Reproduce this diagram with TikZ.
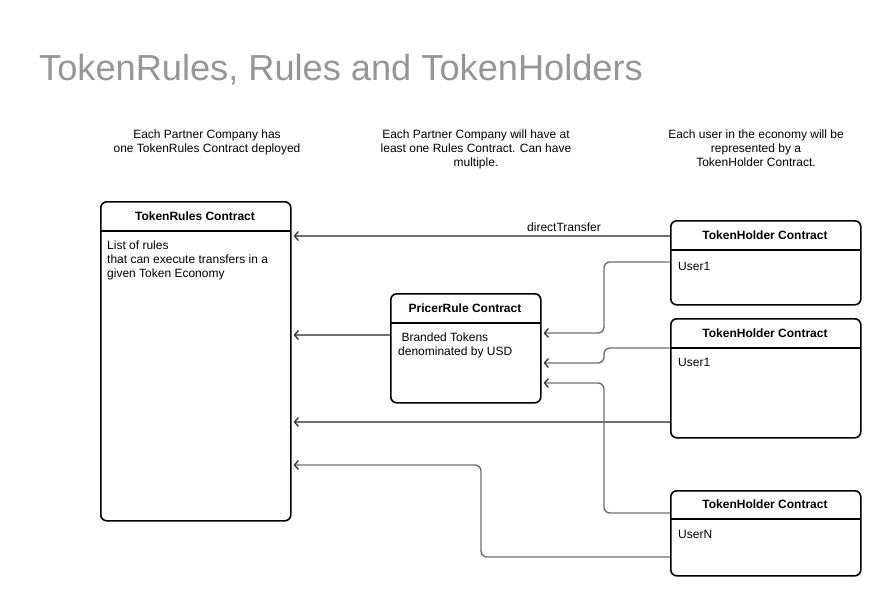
\documentclass[tikz,border=0pt]{standalone}
\usepackage{fontspec}
\setmainfont{Liberation Sans}
\usetikzlibrary{arrows.meta}
\definecolor{conncol}{RGB}{112,112,112}
\definecolor{titlecol}{RGB}{150,150,150}
\begin{document}
\begin{tikzpicture}[x=1pt,y=-1pt,
  box/.style={draw=black,line width=1.6pt,rounded corners=6pt,anchor=north west,inner sep=0pt},
  hdr/.style={font=\fontsize{12}{14}\selectfont\bfseries,anchor=center},
  body/.style={font=\fontsize{12}{14}\selectfont,align=left,anchor=north west,inner sep=0pt},
  note/.style={font=\fontsize{12}{14}\selectfont,align=center,anchor=north,inner sep=0pt},
  conn/.style={draw=conncol,line width=1.4pt,rounded corners=6pt,shorten >=2pt,
    -{Straight Barb[length=4pt,width=9pt,line width=1.3pt,color=black!80]}},
  sepline/.style={line width=1.6pt}]
\useasboundingbox[fill=white] (0,0) rectangle (888,595);

% title
\node[anchor=base west,inner sep=0pt,text=titlecol,font=\fontsize{36.2}{40}\selectfont] (title) at (39,80) {TokenRules, Rules and TokenHolders};

% notes
\node[note] (n1) at (207,130) {Each Partner Company has\\one TokenRules Contract deployed};
\node[note] (n2) at (476,130) {Each Partner Company will have at\\least one Rules Contract. Can have\\multiple.};
\node[note] (n3) at (756,130) {Each user in the economy will be\\represented by a\\TokenHolder Contract.};

% boxes
\node[box,minimum width=190pt,minimum height=319pt] (tr) at (100,201) {};
\draw[sepline] (100,231) -- (290,231);
\node[hdr] (trh) at (195,216) {TokenRules Contract};
\node[body] (trb) at (107,241) {List of rules\\that can execute transfers in a\\given Token Economy};

\node[box,minimum width=150pt,minimum height=109pt] (pr) at (390,293) {};
\draw[sepline] (390,323) -- (540,323);
\node[hdr] (prh) at (465,308) {PricerRule Contract};
\node[body] (prb) at (398,333) {\hspace{3.3pt}Branded Tokens\\denominated by USD};

\node[box,minimum width=190pt,minimum height=84pt] (th1) at (670,220) {};
\draw[sepline] (670,250) -- (860,250);
\node[hdr] (th1h) at (765,235) {TokenHolder Contract};
\node[body] (th1b) at (678,262) {User1};

\node[box,minimum width=190pt,minimum height=119pt] (th2) at (670,318) {};
\draw[sepline] (670,348) -- (860,348);
\node[hdr] (th2h) at (765,333) {TokenHolder Contract};
\node[body] (th2b) at (678,358) {User1};

\node[box,minimum width=190pt,minimum height=85pt] (th3) at (670,490) {};
\draw[sepline] (670,519) -- (860,519);
\node[hdr] (th3h) at (765,504) {TokenHolder Contract};
\node[body] (th3b) at (678,530) {UserN};

% connector anchor points
\coordinate (c1s) at ([yshift=-16pt]th1.north west);
\coordinate (c1e) at ([yshift=-35pt]tr.north east);
\coordinate (c2s) at ([yshift=-42pt]pr.north west);
\coordinate (c2e) at ([yshift=-134pt]tr.north east);
\coordinate (c3s) at ([yshift=-42pt]th1.north west);
\coordinate (c3e) at ([yshift=-40pt]pr.north east);
\coordinate (c4s) at ([yshift=-30pt]th2.north west);
\coordinate (c4e) at ([yshift=-70pt]pr.north east);
\coordinate (c5s) at ([yshift=-23pt]th3.north west);
\coordinate (c5e) at ([yshift=-90pt]pr.north east);
\coordinate (c6s) at ([yshift=-104pt]th2.north west);
\coordinate (c6e) at ([yshift=-221pt]tr.north east);
\coordinate (c7s) at ([yshift=-67pt]th3.north west);
\coordinate (c7e) at ([yshift=-264pt]tr.north east);
\coordinate (v1) at (604,0);
\coordinate (v2) at (481,0);

\draw[conn] (c1s) -- (c1e);
\node[font=\fontsize{12}{14}\selectfont,anchor=base] (dt) at (564,231) {directTransfer};
\draw[conn] (c2s) -- (c2e);
\draw[conn] (c3s) -- (c3s -| v1) -- (c3e -| v1) -- (c3e);
\draw[conn] (c4s) -- (c4s -| v1) -- (c4e -| v1) -- (c4e);
\draw[conn] (c5s) -- (c5s -| v1) -- (c5e -| v1) -- (c5e);
\draw[conn] (c6s) -- (c6e);
\draw[conn] (c7s) -- (c7s -| v2) -- (c7e -| v2) -- (c7e);
\end{tikzpicture}
\end{document}
